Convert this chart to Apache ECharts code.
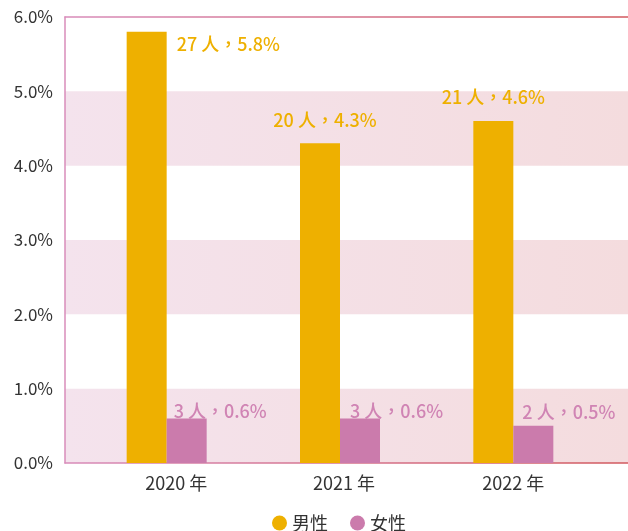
<!DOCTYPE html>
<html>
<head>
<meta charset="utf-8">
<script src="https://cdn.jsdelivr.net/npm/echarts@6/dist/echarts.min.js"></script>
<style>
  html, body { margin: 0; padding: 0; background: #fff; }
  #chart { width: 628px; height: 531px; }
</style>
</head>
<body>
<div id="chart"></div>
<script>
// Yearly counts and shares by gender
const years = ['2020 年', '2021 年', '2022 年'];
const maleCount = [27, 20, 21];
const malePct = [5.8, 4.3, 4.6];
const femaleCount = [3, 3, 2];
const femalePct = [0.6, 0.6, 0.5];
const yTicks = [0, 1, 2, 3, 4, 5, 6];

const GOLD = '#EEB000';
const PINK = '#CB7BAC';
const FONT = '"Noto Sans CJK TC", "Noto Sans", sans-serif';

// label placement relative to each bar's top-left corner
const maleLabelPos = [
  { position: [50, 12], align: 'left' },
  { position: [25, -23], align: 'center' },
  { position: [20, -24], align: 'center' }
];
const femaleLabelPos = [
  { position: [7, -7], align: 'left' },
  { position: [10, -7], align: 'left' },
  { position: [9, -14], align: 'left' }
];
// horizontal nudge of each year label (left padding, px)
const yearLabelShift = [19, 8, 0];

const lineGrad = new echarts.graphic.LinearGradient(0, 0, 1, 0, [
  { offset: 0, color: '#D88CBA' },
  { offset: 1, color: '#D2595E' }
]);
const bandGrad = new echarts.graphic.LinearGradient(0, 0, 1, 0, [
  { offset: 0, color: '#F4E3ED' },
  { offset: 1, color: '#F4DCDE' }
]);

function makeSeries(name, counts, pcts, color, labelColor, places) {
  return {
    name: name,
    type: 'bar',
    xAxisIndex: 2,
    yAxisIndex: 1,
    barWidth: 40,
    barGap: '0%',
    itemStyle: { color: color },
    data: pcts.map((v, i) => ({
      value: v,
      label: {
        show: true,
        position: places[i].position,
        align: places[i].align,
        verticalAlign: 'middle',
        formatter: counts[i] + ' 人，' + v.toFixed(1) + '%',
        color: labelColor,
        fontSize: 18,
        fontWeight: 500,
        fontFamily: FONT
      }
    }))
  };
}

const chart = echarts.init(document.getElementById('chart'), null, { renderer: 'canvas' });
chart.setOption({
  animation: false,
  textStyle: { fontFamily: FONT },
  grid: [
    { left: 65, right: 0, top: 17, bottom: 68 },
    { left: 80, right: 28, top: 17, bottom: 68 }
  ],
  xAxis: [
    { gridIndex: 0, type: 'category', data: [''], position: 'bottom',
      axisLine: { show: true, lineStyle: { color: lineGrad, width: 1.5 } },
      axisTick: { show: false }, axisLabel: { show: false }, splitLine: { show: false } },
    { gridIndex: 0, type: 'category', data: [''], position: 'top',
      axisLine: { show: true, lineStyle: { color: lineGrad, width: 1.5 } },
      axisTick: { show: false }, axisLabel: { show: false }, splitLine: { show: false } },
    { gridIndex: 1, type: 'category',
      data: years.map((y, i) => ({ value: y, textStyle: { padding: [0, 0, 0, yearLabelShift[i]] } })),
      axisLine: { show: false }, axisTick: { show: false },
      axisLabel: { color: '#333', fontSize: 18, margin: 11, fontFamily: FONT } }
  ],
  yAxis: [
    { gridIndex: 0, type: 'value', min: yTicks[0], max: yTicks[yTicks.length - 1], interval: 1,
      axisLine: { show: true, lineStyle: { color: '#D88CBA', width: 1.5 } },
      axisTick: { show: false },
      axisLabel: { color: '#333', fontSize: 17, margin: 12, fontFamily: FONT,
        formatter: v => v.toFixed(1) + '%' },
      splitLine: { show: false },
      splitArea: { show: true, areaStyle: { color: [bandGrad, 'rgba(255,255,255,0)'] } } },
    { gridIndex: 1, type: 'value', min: yTicks[0], max: yTicks[yTicks.length - 1], interval: 1,
      show: false, splitLine: { show: false } }
  ],
  legend: {
    left: 267, top: 509,
    icon: 'circle', itemWidth: 15, itemHeight: 15, itemGap: 22,
    textStyle: { color: '#333', fontSize: 18, fontFamily: FONT },
    data: ['男性', '女性']
  },
  series: [
    makeSeries('男性', maleCount, malePct, GOLD, GOLD, maleLabelPos),
    makeSeries('女性', femaleCount, femalePct, PINK, '#D084B4', femaleLabelPos)
  ]
});
</script>
</body>
</html>
